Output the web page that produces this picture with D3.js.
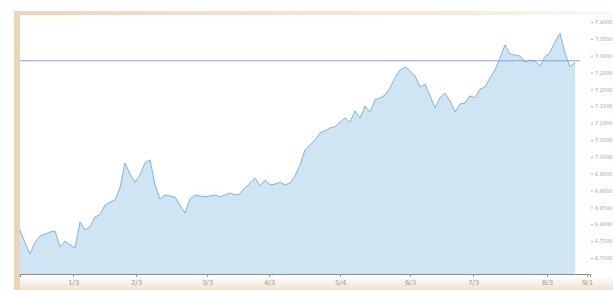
<!DOCTYPE html>
<html><head><meta charset="utf-8">
<script src="https://cdn.jsdelivr.net/npm/d3@7"></script>
<style>html,body{margin:0;padding:0;background:#fff;overflow:hidden}</style>
</head><body>
<svg id="c" width="613" height="290"></svg>
<script>
const values = [6.783,6.745,6.712,6.747,6.765,6.771,6.777,6.780,6.733,6.750,
6.739,6.730,6.807,6.783,6.792,6.822,6.828,6.857,6.866,6.872,
6.908,6.982,6.949,6.925,6.946,6.982,6.991,6.917,6.875,6.887,
6.884,6.881,6.857,6.833,6.875,6.887,6.884,6.881,6.884,6.887,
6.881,6.887,6.893,6.887,6.890,6.908,6.922,6.937,6.914,6.931,
6.917,6.919,6.925,6.917,6.922,6.943,6.976,7.020,7.035,7.050,
7.071,7.077,7.086,7.089,7.103,7.115,7.103,7.136,7.115,7.151,
7.133,7.169,7.175,7.183,7.204,7.234,7.258,7.267,7.255,7.240,
7.207,7.216,7.181,7.145,7.175,7.189,7.166,7.133,7.157,7.160,
7.181,7.175,7.201,7.207,7.234,7.258,7.293,7.332,7.305,7.302,
7.299,7.281,7.287,7.284,7.270,7.296,7.311,7.341,7.367,7.308,
7.267,7.281];
const refValue = 7.285;
const xTickPos = [10.6, 23.2, 37.4, 49.8, 64, 78, 90.6, 105.4, 113.4];
const xTickLabels = ["1/3","2/3","3/3","4/3","5/4","6/3","7/3","8/3","9/1"];
const yTicks = [6.70,6.75,6.80,6.85,6.90,6.95,7.00,7.05,7.10,7.15,7.20,7.25,7.30,7.35,7.40];
const xMax = 114;

const svg = d3.select("#c");
const defs = svg.append("defs");
const g1 = defs.append("linearGradient").attr("id","topfade").attr("x1",0).attr("x2",1);
g1.append("stop").attr("offset","0%").attr("stop-color","#ecd6bb");
g1.append("stop").attr("offset","75%").attr("stop-color","#f5ebdf");
g1.append("stop").attr("offset","100%").attr("stop-color","#fcf8f3");
const g2 = defs.append("linearGradient").attr("id","botfade").attr("x1",0).attr("x2",0).attr("y1",0).attr("y2",1);
g2.append("stop").attr("offset","0%").attr("stop-color","#ffffff");
g2.append("stop").attr("offset","100%").attr("stop-color","#f1e2d0");
svg.append("rect").attr("x",14).attr("y",11).attr("width",599).attr("height",4).attr("fill","url(#topfade)");
svg.append("rect").attr("x",14).attr("y",11).attr("width",6).attr("height",279).attr("fill","#ebd5ba");
svg.append("rect").attr("x",20).attr("y",276).attr("width",593).attr("height",14).attr("fill","url(#botfade)");

const x = d3.scaleLinear().domain([0, xMax]).range([20, 590]);
const y = d3.scaleLinear().domain([6.6525, 7.4178]).range([274, 16]);

const area = d3.area().x((d,i)=>x(i)).y0(y.range()[0]).y1(d=>y(d));
const line = d3.line().x((d,i)=>x(i)).y(d=>y(d));

svg.append("path").datum(values).attr("d",area).attr("fill","#cfe5f3");
svg.append("path").datum(values).attr("d",line).attr("fill","none").attr("stroke","#7fb3d9").attr("stroke-width",1);

svg.append("line").attr("x1",20).attr("x2",x(xMax)-10)
  .attr("y1",y(refValue)).attr("y2",y(refValue))
  .attr("stroke","#8c9fdf").attr("stroke-width",1);

const xAxis = d3.axisBottom(x).tickValues(xTickPos).tickFormat((d,i)=>xTickLabels[i]).tickSize(3).tickPadding(3);
const gx = svg.append("g").attr("transform",`translate(0,${y.range()[0]})`).call(xAxis);
gx.select(".domain").attr("stroke","#8a8a8a");
gx.selectAll(".tick line").attr("stroke","#999");
gx.selectAll("text").attr("fill","#9a9a9a").attr("font-size",7).attr("font-family","DejaVu Sans");

const yAxis = d3.axisRight(y).tickValues(yTicks).tickFormat(d3.format(".4f")).tickSize(2).tickPadding(2);
const gy = svg.append("g").attr("transform","translate(591,0)").call(yAxis);
gy.select(".domain").remove();
gy.selectAll(".tick line").attr("stroke","#aaa");
gy.selectAll("text").attr("fill","#a0a0a0").attr("font-size",5).attr("font-family","DejaVu Sans");
</script>
</body></html>
